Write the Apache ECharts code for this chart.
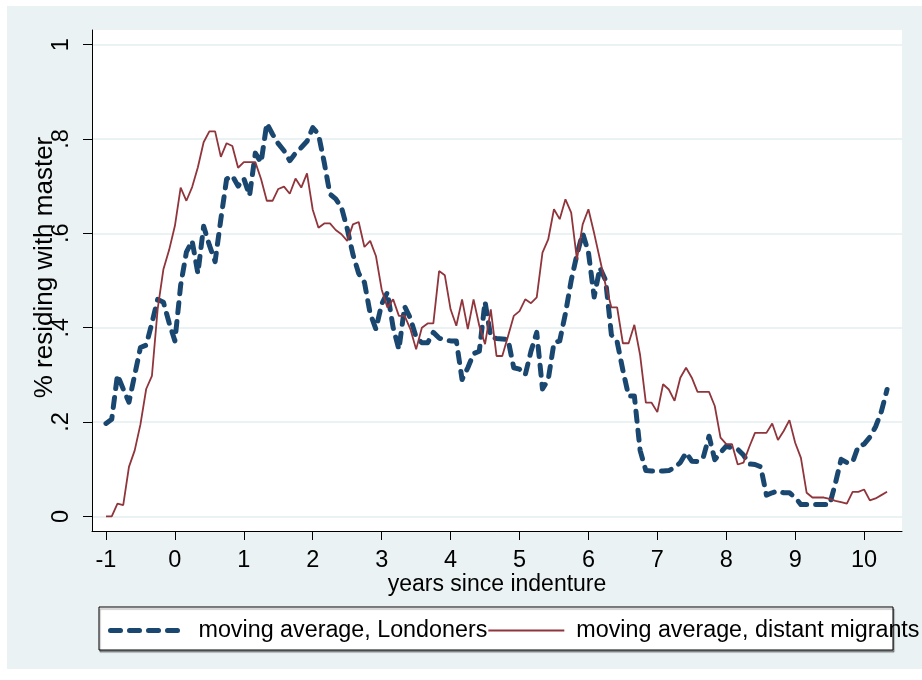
<!DOCTYPE html>
<html>
<head>
<meta charset="utf-8">
<script src="https://cdn.jsdelivr.net/npm/echarts@6/dist/echarts.min.js"></script>
<style>
html, body { margin: 0; padding: 0; background: #fff; }
#chart { position: absolute; left: 7px; top: 6px; width: 915px; height: 663px; }
</style>
</head>
<body>
<div id="chart"></div>
<script>
// monthly moving averages, from 12 months before indenture to 10 years 4 months after
var startMonth = -12, endMonth = 124;
var years = [];
for (var m = startMonth; m <= endMonth; m++) years.push(m / 12);

var londoners = [
  0.197, 0.206, 0.30, 0.27, 0.242, 0.30, 0.358, 0.363, 0.41, 0.46, 0.454, 0.41, 0.372,
  0.49, 0.56, 0.584, 0.515, 0.615, 0.575, 0.54, 0.63, 0.715, 0.722, 0.70, 0.716,
  0.68, 0.77, 0.75, 0.833, 0.81, 0.79, 0.775, 0.754, 0.77, 0.782, 0.795, 0.824,
  0.81, 0.75, 0.683, 0.673, 0.655, 0.61, 0.555, 0.515, 0.496, 0.43, 0.397, 0.45,
  0.475, 0.40, 0.354, 0.445, 0.42, 0.38, 0.368, 0.368, 0.39, 0.378, 0.374, 0.372,
  0.372, 0.29, 0.315, 0.345, 0.35, 0.455, 0.38, 0.377, 0.376, 0.375, 0.315, 0.312,
  0.30, 0.35, 0.39, 0.27, 0.29, 0.368, 0.372, 0.43, 0.50, 0.555, 0.60, 0.56,
  0.465, 0.527, 0.50, 0.385, 0.37, 0.31, 0.255, 0.255, 0.14, 0.097, 0.096, 0.096,
  0.096, 0.097, 0.104, 0.114, 0.135, 0.117, 0.116, 0.125, 0.17, 0.12, 0.135, 0.149,
  0.145, 0.142, 0.13, 0.111, 0.11, 0.105, 0.045, 0.05, 0.054, 0.05, 0.05, 0.04,
  0.025, 0.025, 0.025, 0.025, 0.025, 0.025, 0.07, 0.121, 0.114, 0.115, 0.149, 0.153,
  0.168, 0.19, 0.222, 0.269
];

var distant = [
  0, 0, 0.027, 0.024, 0.105, 0.14, 0.195, 0.27, 0.298, 0.44, 0.524, 0.565, 0.616,
  0.697, 0.669, 0.698, 0.74, 0.793, 0.816, 0.816, 0.762, 0.791, 0.785, 0.739, 0.751,
  0.751, 0.751, 0.715, 0.669, 0.669, 0.694, 0.699, 0.684, 0.716, 0.697, 0.727, 0.65,
  0.612, 0.621, 0.621, 0.607, 0.598, 0.584, 0.619, 0.624, 0.571, 0.584, 0.552, 0.481,
  0.443, 0.46, 0.425, 0.425, 0.397, 0.354, 0.40, 0.409, 0.409, 0.52, 0.511, 0.439,
  0.404, 0.46, 0.397, 0.46, 0.404, 0.365, 0.439, 0.34, 0.34, 0.382, 0.425, 0.435,
  0.46, 0.452, 0.464, 0.559, 0.587, 0.651, 0.63, 0.672, 0.644, 0.545, 0.619, 0.651,
  0.60, 0.545, 0.49, 0.443, 0.443, 0.367, 0.367, 0.406, 0.342, 0.241, 0.241, 0.221,
  0.28, 0.269, 0.245, 0.294, 0.315, 0.294, 0.264, 0.264, 0.264, 0.234, 0.167, 0.153,
  0.153, 0.11, 0.114, 0.147, 0.177, 0.177, 0.177, 0.197, 0.162, 0.181, 0.204, 0.156,
  0.124, 0.05, 0.04, 0.04, 0.04, 0.037, 0.033, 0.03, 0.027, 0.052, 0.052, 0.057,
  0.034, 0.038, 0.045, 0.052
];

var xTicks = [-1, 0, 1, 2, 3, 4, 5, 6, 7, 8, 9, 10];
var yTicks = [0, 0.2, 0.4, 0.6, 0.8, 1];

function pairs(ys) {
  return ys.map(function (v, i) { return [years[i], v]; });
}

var navy = '#1a476f', maroon = '#90353b';
var font = 'Liberation Sans, Arial, sans-serif';
var chart = echarts.init(document.getElementById('chart'));
chart.setOption({
  animation: false,
  backgroundColor: '#eaf2f3',
  textStyle: { fontFamily: font },
  graphic: [{
    type: 'rect',
    shape: { x: 92, y: 601, width: 794, height: 43 },
    style: { fill: '#fff', stroke: '#000', lineWidth: 1,
      shadowColor: 'rgba(0,0,0,0.35)', shadowOffsetX: 1, shadowOffsetY: 2, shadowBlur: 1 }
  }],
  grid: { left: 85, top: 24, width: 810, height: 501, show: true, backgroundColor: '#fff', borderWidth: 0 },
  legend: {
    left: 101, top: 613, width: 860, padding: 0, itemGap: 0,
    itemWidth: 76, itemHeight: 12,
    textStyle: { fontSize: 23.3, color: '#000', fontFamily: font, padding: [0, 0, 0, 7] },
    data: [{
      name: 'moving average, Londoners',
      itemStyle: { opacity: 0 },
      lineStyle: { color: navy, width: 5, type: [10, 9], cap: 'round' }
    }, {
      name: 'moving average, distant migrants',
      itemStyle: { opacity: 0 },
      lineStyle: { color: maroon, width: 2 }
    }]
  },
  xAxis: {
    type: 'value', min: -1.203, max: 10.55,
    name: 'years since indenture', nameLocation: 'middle', nameGap: 42, nameMoveOverlap: false,
    nameTextStyle: { fontSize: 23, color: '#000', fontFamily: font },
    axisLine: { show: true, onZero: false, lineStyle: { color: '#000', width: 1 } },
    axisTick: { show: true, length: 9, customValues: xTicks, lineStyle: { color: '#000' } },
    axisLabel: { customValues: xTicks, fontSize: 23.5, color: '#000', margin: 18 },
    splitLine: { show: false }
  },
  yAxis: {
    type: 'value', min: -0.031, max: 1.031,
    name: '% residing with master', nameLocation: 'middle', nameGap: 34, nameMoveOverlap: false,
    nameTextStyle: { fontSize: 26, color: '#000', fontFamily: font, padding: [0, 0, 0, 26] },
    axisLine: { show: true, onZero: false, lineStyle: { color: '#000', width: 1 } },
    axisTick: { show: true, length: 9, customValues: yTicks, lineStyle: { color: '#000' } },
    axisLabel: {
      customValues: yTicks, rotate: 90, fontSize: 23.5, color: '#000', margin: 18,
      formatter: function (v) {
        if (v === 0) return '0';
        if (v === 1) return '1';
        return String(+v.toFixed(1)).replace('0.', '.');
      }
    },
    splitLine: { show: true, lineStyle: { color: '#eaf2f3', width: 2 } }
  },
  series: [{
    name: 'moving average, Londoners',
    type: 'line', symbol: 'none',
    data: pairs(londoners),
    lineStyle: { color: navy, width: 5, type: [10, 9], cap: 'round', join: 'round' },
    itemStyle: { color: navy },
    z: 2
  }, {
    name: 'moving average, distant migrants',
    type: 'line', symbol: 'none',
    data: pairs(distant),
    lineStyle: { color: maroon, width: 1.8 },
    itemStyle: { color: maroon },
    z: 3
  }]
});
</script>
</body>
</html>
